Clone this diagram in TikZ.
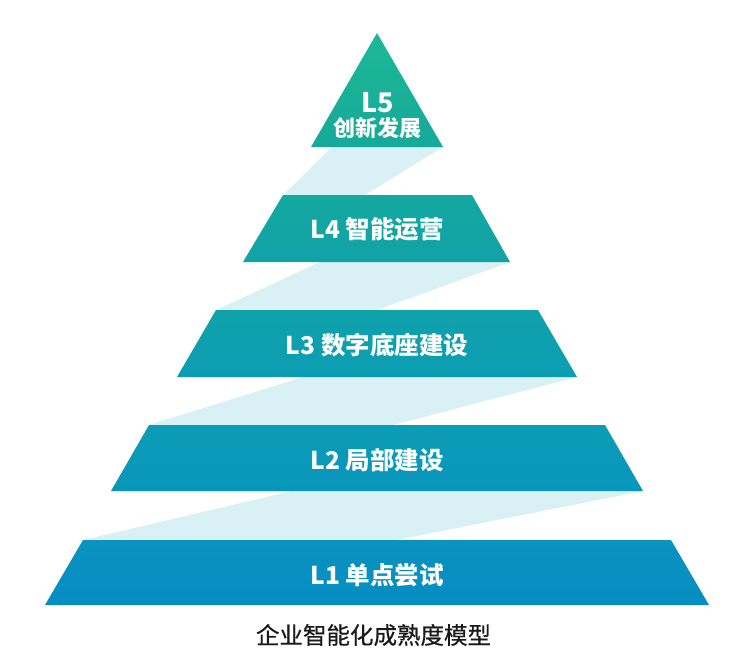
\documentclass[tikz,border=0pt]{standalone}
\usepackage{fontspec}
\newfontfamily\cjk{Noto Sans CJK SC}
\newfontfamily\cjkmed[FakeBold=0.6]{Noto Sans CJK SC}
\usetikzlibrary{shadings}
\definecolor{stripc}{HTML}{D9F0F4}
\definecolor{c5a}{HTML}{1DB896}\definecolor{c5b}{HTML}{16A999}
\definecolor{c4a}{HTML}{14A8A0}\definecolor{c4b}{HTML}{11A2A7}
\definecolor{c3a}{HTML}{0FA2AB}\definecolor{c3b}{HTML}{0C9DB3}
\definecolor{c2a}{HTML}{0B9CB6}\definecolor{c2b}{HTML}{0996BC}
\definecolor{c1a}{HTML}{0993BE}\definecolor{c1b}{HTML}{078DC2}
\definecolor{titlec}{HTML}{1A1A1A}
\tikzset{
  strip/.style={fill=stripc, draw=none},
  lvl/.style={draw=none, shading=axis, shading angle=0},
  lbl/.style={text=white, inner sep=0pt, font=\cjk\bfseries\fontsize{24.5}{28}\selectfont},
}
\begin{document}
\begin{tikzpicture}[x=1pt,y=-1pt]
\useasboundingbox (0,0) rectangle (746,667);
% named corners
\coordinate (apex) at (377,33);
\coordinate (b5l) at (311,147); \coordinate (b5r) at (443,147);
\coordinate (t4l) at (283,195); \coordinate (t4r) at (472,195);
\coordinate (b4l) at (243,262); \coordinate (b4r) at (510,262);
\coordinate (t3l) at (216,310); \coordinate (t3r) at (538,310);
\coordinate (b3l) at (177,377); \coordinate (b3r) at (577,377);
\coordinate (t2l) at (149,425); \coordinate (t2r) at (605,425);
\coordinate (b2l) at (111,491); \coordinate (b2r) at (643,491);
\coordinate (t1l) at (83,540);  \coordinate (t1r) at (671,540);
\coordinate (b1l) at (45,605);  \coordinate (b1r) at (709,605);
% connecting strips
\fill[strip] (332,147) -- (b5r) -- (365,195) -- (t4l) -- cycle;
\fill[strip] (320,262) -- (b4r) -- (377,310) -- (t3l) -- cycle;
\fill[strip] (303,377) -- (b3r) -- (393,425) -- (t2l) -- cycle;
\fill[strip] (292,491) -- (b2r) -- (397,540) -- (t1l) -- cycle;
% levels
\path[lvl, top color=c5a, bottom color=c5b] (apex) -- (b5r) -- (b5l) -- cycle;
\path[lvl, top color=c4a, bottom color=c4b] (t4l) -- (t4r) -- (b4r) -- (b4l) -- cycle;
\path[lvl, top color=c3a, bottom color=c3b] (t3l) -- (t3r) -- (b3r) -- (b3l) -- cycle;
\path[lvl, top color=c2a, bottom color=c2b] (t2l) -- (t2r) -- (b2r) -- (b2l) -- cycle;
\path[lvl, top color=c1a, bottom color=c1b] (t1l) -- (t1r) -- (b1r) -- (b1l) -- cycle;
% labels
\node[lbl, font=\cjk\bfseries\fontsize{27}{30}\selectfont] (l5a) at (378,103) {L5};
\node[lbl, font=\cjk\bfseries\fontsize{22}{25}\selectfont] (l5b) at (377,128) {创新发展};
\node[lbl] (l4) at (377,229) {L4 智能运营};
\node[lbl] (l3) at (377,345) {L3 数字底座建设};
\node[lbl] (l2) at (377,460) {L2 局部建设};
\node[lbl] (l1) at (377,575) {L1 单点尝试};
\node[text=titlec, inner sep=0pt, font=\cjkmed\fontsize{23.5}{27}\selectfont] (title) at (373.5,635) {企业智能化成熟度模型};
\end{tikzpicture}
\end{document}
